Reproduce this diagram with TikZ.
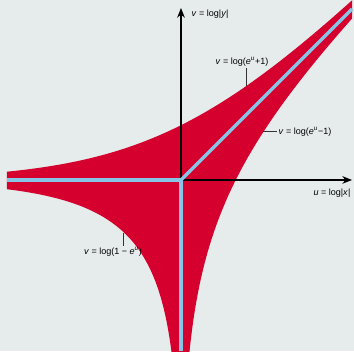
\documentclass[tikz,border=0pt]{standalone}
\usepackage{fontspec}
\setmainfont{Liberation Sans}
\usetikzlibrary{arrows.meta}
\definecolor{amoebared}{HTML}{D5002E}
\definecolor{bgpaper}{HTML}{E6ECEC}
\definecolor{spineblue}{HTML}{86C5E6}

\begin{document}
\begin{tikzpicture}[x=2cm, y=2cm,
        every node/.style={font=\fontsize{6.5}{7.5}\selectfont, inner sep=1pt},
        axis/.style={draw=black, line width=0.9pt, -{Stealth[length=7pt, width=5.5pt]}},
        spine/.style={draw=spineblue, line width=2.5pt},
        leader/.style={draw=black!80, line width=0.7pt}]
    % paper
    \fill[bgpaper] (-2.291,-2.165) rectangle (2.190,2.278);
    \useasboundingbox (-2.291,-2.165) rectangle (2.190,2.278);
    \coordinate (O) at (0,0);
    % amoeba of 1+x+y=0
    \begin{scope}
        \clip (-2.203,-2.3) rectangle (2.165,2.4);
        \fill[amoebared] plot[domain=-2.6:2.4, samples=150] (\x, {ln(exp(\x)+1)})
            -- plot[domain=2.3:-2.6, samples=150] ({ln(1+exp(\x))}, \x)
            -- plot[domain=2.6:-2.6, samples=150] ({-ln(1+exp(-\x))}, {-\x-ln(1+exp(-\x))}) -- cycle;
    \end{scope}
    % axes
    \draw[axis] (O) -- (0,2.177);
    \draw[axis] (O) -- (2.165,0);
    % spine
    \coordinate (sl) at (-2.203,0);
    \coordinate (sb) at (0,-2.165);
    \coordinate (sd) at (2.165,2.165);
    \draw[spine] (sl) -- (O) -- (sb);
    \draw[spine] (O) -- (sd);
    % labels
    \node[anchor=west] (ylab) at (0.114,2.10) {\textit{v} = log|\textit{y}|};
    \node[anchor=east] (xlab) at (2.165,-0.165) {\textit{u} = log|\textit{x}|};
    \node (uplab) at (0.772,1.494) {\textit{v} = log(\textit{e}\textsuperscript{\textit{u}}+1)};
    \node[anchor=west] (rlab) at (1.215,0.608) {\textit{v} = log(\textit{e}\textsuperscript{\textit{u}}−1)};
    \node (lolab) at (-0.861,-0.911) {\textit{v} = log(1 − \textit{e}\textsuperscript{\textit{u}})};
    \coordinate (upc) at (0.835,{ln(exp(0.835)+1)});
    \coordinate (rc) at ({ln(1+exp(0.608))},0.608);
    \coordinate (loc) at (-0.722,{ln(1-exp(-0.722))});
    \draw[leader] (uplab.south -| upc) -- (upc);
    \draw[leader] (rc) -- (rlab.west);
    \draw[leader] (loc) -- (lolab.north -| loc);
\end{tikzpicture}
\end{document}
